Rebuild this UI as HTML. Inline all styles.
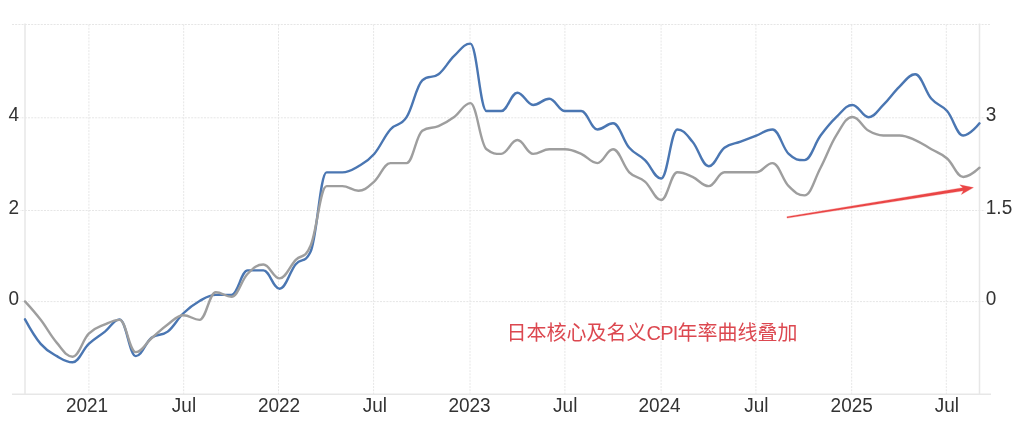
<!DOCTYPE html>
<html><head><meta charset="utf-8"><style>
html,body{margin:0;padding:0;background:#fff;}
body{width:1014px;height:430px;position:relative;overflow:hidden;}
</style></head><body>
<svg width="1014" height="430" viewBox="0 0 1014 430" style="position:absolute;left:0;top:0">
<line x1="88.9" y1="24.5" x2="88.9" y2="394.2" stroke="#e6e6e6" stroke-width="1" stroke-dasharray="2,1.2"/>
<line x1="183.7" y1="24.5" x2="183.7" y2="394.2" stroke="#e6e6e6" stroke-width="1" stroke-dasharray="2,1.2"/>
<line x1="278.5" y1="24.5" x2="278.5" y2="394.2" stroke="#e6e6e6" stroke-width="1" stroke-dasharray="2,1.2"/>
<line x1="373.6" y1="24.5" x2="373.6" y2="394.2" stroke="#e6e6e6" stroke-width="1" stroke-dasharray="2,1.2"/>
<line x1="470.0" y1="24.5" x2="470.0" y2="394.2" stroke="#e6e6e6" stroke-width="1" stroke-dasharray="2,1.2"/>
<line x1="564.9" y1="24.5" x2="564.9" y2="394.2" stroke="#e6e6e6" stroke-width="1" stroke-dasharray="2,1.2"/>
<line x1="661.1" y1="24.5" x2="661.1" y2="394.2" stroke="#e6e6e6" stroke-width="1" stroke-dasharray="2,1.2"/>
<line x1="755.9" y1="24.5" x2="755.9" y2="394.2" stroke="#e6e6e6" stroke-width="1" stroke-dasharray="2,1.2"/>
<line x1="851.7" y1="24.5" x2="851.7" y2="394.2" stroke="#e6e6e6" stroke-width="1" stroke-dasharray="2,1.2"/>
<line x1="946.3" y1="24.5" x2="946.3" y2="394.2" stroke="#e6e6e6" stroke-width="1" stroke-dasharray="2,1.2"/>
<line x1="12" y1="24.5" x2="991" y2="24.5" stroke="#e6e6e6" stroke-width="1" stroke-dasharray="2,1.2"/>
<line x1="12" y1="117.8" x2="991" y2="117.8" stroke="#e6e6e6" stroke-width="1" stroke-dasharray="2,1.2"/>
<line x1="12" y1="210.5" x2="991" y2="210.5" stroke="#e6e6e6" stroke-width="1" stroke-dasharray="2,1.2"/>
<line x1="12" y1="301.6" x2="991" y2="301.6" stroke="#e6e6e6" stroke-width="1" stroke-dasharray="2,1.2"/>
<line x1="25" y1="23.5" x2="25" y2="394.2" stroke="#e7e7e7" stroke-width="1.5"/>
<line x1="979.5" y1="23.5" x2="979.5" y2="394.2" stroke="#e7e7e7" stroke-width="1.5"/>
<line x1="12" y1="394.2" x2="991" y2="394.2" stroke="#e7e7e7" stroke-width="1.5"/>
<path d="M25.00,319.38 C25.00,319.38 34.41,336.66 40.68,343.89 C47.16,351.36 50.40,352.41 56.89,356.14 C63.16,359.76 66.30,362.27 72.57,362.27 C79.05,362.27 82.29,350.02 88.77,343.89 C95.25,337.76 98.50,336.79 104.98,331.63 C110.83,326.98 113.76,319.38 119.61,319.38 C126.10,319.38 129.34,356.14 135.82,356.14 C142.09,356.14 145.23,342.58 151.50,337.76 C157.98,332.78 161.22,336.62 167.70,331.63 C173.98,326.81 177.11,319.28 183.39,313.25 C189.87,307.03 193.11,304.68 199.59,301.00 C206.07,297.32 209.31,294.87 215.80,294.87 C222.07,294.87 225.20,294.87 231.48,294.87 C237.96,294.87 241.20,270.37 247.68,270.37 C253.95,270.37 257.09,270.37 263.36,270.37 C269.85,270.37 273.09,288.75 279.57,288.75 C286.05,288.75 289.29,271.96 295.77,264.24 C301.63,257.26 304.55,264.24 310.41,251.98 C316.89,239.73 320.13,172.33 326.61,172.33 C332.89,172.33 336.02,172.33 342.30,172.33 C348.78,172.33 352.02,169.94 358.50,166.21 C364.77,162.59 367.91,161.18 374.18,153.95 C380.66,146.48 383.90,136.80 390.39,129.44 C396.87,122.09 400.11,127.15 406.59,117.19 C412.86,107.55 416.00,86.56 422.27,80.43 C428.75,74.30 432.00,79.28 438.48,74.30 C444.75,69.48 447.89,61.95 454.16,55.92 C460.64,49.69 463.88,43.67 470.36,43.67 C476.85,43.67 480.09,111.06 486.57,111.06 C492.42,111.06 495.35,111.06 501.20,111.06 C507.69,111.06 510.93,92.68 517.41,92.68 C523.68,92.68 526.82,104.94 533.09,104.94 C539.57,104.94 542.81,98.81 549.30,98.81 C555.57,98.81 558.70,111.06 564.98,111.06 C571.46,111.06 574.70,111.06 581.18,111.06 C587.66,111.06 590.90,129.44 597.39,129.44 C603.66,129.44 606.80,123.32 613.07,123.32 C619.55,123.32 622.79,140.35 629.27,147.82 C635.55,155.06 638.68,154.05 644.95,160.08 C651.44,166.31 654.68,178.46 661.16,178.46 C667.64,178.46 670.88,129.44 677.36,129.44 C683.43,129.44 686.46,134.59 692.52,141.70 C699.00,149.30 702.25,166.21 708.73,166.21 C715.00,166.21 718.14,152.65 724.41,147.82 C730.89,142.84 734.13,144.19 740.61,141.70 C746.89,139.29 750.02,137.98 756.30,135.57 C762.78,133.08 766.02,129.44 772.50,129.44 C778.98,129.44 782.22,147.72 788.70,153.95 C794.98,159.98 798.11,160.08 804.39,160.08 C810.87,160.08 814.11,144.29 820.59,135.57 C826.86,127.13 830.00,123.22 836.27,117.19 C842.75,110.96 846.00,104.94 852.48,104.94 C858.96,104.94 862.20,117.19 868.68,117.19 C874.54,117.19 877.46,110.75 883.32,104.94 C889.80,98.50 893.04,92.78 899.52,86.55 C905.80,80.53 908.93,74.30 915.20,74.30 C921.69,74.30 924.93,91.34 931.41,98.81 C937.68,106.04 940.82,103.83 947.09,111.06 C953.57,118.54 956.81,135.57 963.30,135.57 C969.78,135.57 979.50,123.32 979.50,123.32" fill="none" stroke="#4a76b2" stroke-width="2.4" stroke-linejoin="round" stroke-linecap="round"/>
<path d="M25.00,301.40 C25.00,301.40 34.41,311.68 40.68,319.84 C47.16,328.27 50.40,335.39 56.89,342.89 C63.16,350.15 66.30,356.72 72.57,356.72 C79.05,356.72 82.29,340.12 88.77,333.67 C95.25,327.22 98.50,327.36 104.98,324.45 C110.83,321.82 113.76,319.84 119.61,319.84 C126.10,319.84 129.34,352.11 135.82,352.11 C142.09,352.11 145.23,343.72 151.50,338.28 C157.98,332.66 161.22,329.14 167.70,324.45 C173.98,319.92 177.11,315.23 183.39,315.23 C189.87,315.23 193.11,319.84 199.59,319.84 C206.07,319.84 209.31,292.18 215.80,292.18 C222.07,292.18 225.20,296.79 231.48,296.79 C237.96,296.79 241.20,280.30 247.68,273.74 C253.95,267.39 257.09,264.52 263.36,264.52 C269.85,264.52 273.09,278.35 279.57,278.35 C286.05,278.35 289.29,266.69 295.77,259.91 C301.63,253.78 304.55,259.91 310.41,246.08 C316.89,232.25 320.13,186.15 326.61,186.15 C332.89,186.15 336.02,186.15 342.30,186.15 C348.78,186.15 352.02,190.76 358.50,190.76 C364.77,190.76 367.91,186.98 374.18,181.54 C380.66,175.92 383.90,163.10 390.39,163.10 C396.87,163.10 400.11,163.10 406.59,163.10 C412.86,163.10 416.00,135.44 422.27,130.83 C428.75,126.22 432.00,129.03 438.48,126.22 C444.75,123.50 447.89,121.53 454.16,117.00 C460.64,112.31 463.88,103.17 470.36,103.17 C476.85,103.17 480.09,144.66 486.57,149.27 C492.42,153.88 495.35,153.88 501.20,153.88 C507.69,153.88 510.93,140.05 517.41,140.05 C523.68,140.05 526.82,153.88 533.09,153.88 C539.57,153.88 542.81,149.27 549.30,149.27 C555.57,149.27 558.70,149.27 564.98,149.27 C571.46,149.27 574.70,151.11 581.18,153.88 C587.66,156.65 590.90,163.10 597.39,163.10 C603.66,163.10 606.80,149.27 613.07,149.27 C619.55,149.27 622.79,165.76 629.27,172.32 C635.55,178.67 638.68,176.10 644.95,181.54 C651.44,187.16 654.68,199.98 661.16,199.98 C667.64,199.98 670.88,172.32 677.36,172.32 C683.43,172.32 686.46,174.26 692.52,176.93 C699.00,179.79 702.25,186.15 708.73,186.15 C715.00,186.15 718.14,172.32 724.41,172.32 C730.89,172.32 734.13,172.32 740.61,172.32 C746.89,172.32 750.02,172.32 756.30,172.32 C762.78,172.32 766.02,163.10 772.50,163.10 C778.98,163.10 782.22,179.59 788.70,186.15 C794.98,192.50 798.11,195.37 804.39,195.37 C810.87,195.37 814.11,179.89 820.59,167.71 C826.86,155.92 830.00,145.42 836.27,135.44 C842.75,125.13 846.00,117.00 852.48,117.00 C858.96,117.00 862.20,126.95 868.68,130.83 C874.54,134.33 877.46,135.44 883.32,135.44 C889.80,135.44 893.04,135.44 899.52,135.44 C905.80,135.44 908.93,137.33 915.20,140.05 C921.69,142.86 924.93,145.52 931.41,149.27 C937.68,152.90 940.82,153.05 947.09,158.49 C953.57,164.11 956.81,176.93 963.30,176.93 C969.78,176.93 979.50,167.71 979.50,167.71" fill="none" stroke="#9e9e9e" stroke-width="2.4" stroke-linejoin="round" stroke-linecap="round"/>
<polygon points="787.11,218.09 963.28,190.84 961.34,194.49 973.40,187.60 959.79,184.81 962.78,187.68 786.89,216.71" fill="#ea4545" stroke="#ea4545" stroke-width="0.3" stroke-linejoin="round"/>
<text transform="translate(87.00,411.8) scale(1,1.07)" text-anchor="middle" font-family="Liberation Sans, Arial, sans-serif" font-size="19" fill="#333333">2021</text>
<text transform="translate(184.00,411.8) scale(1,1.07)" text-anchor="middle" font-family="Liberation Sans, Arial, sans-serif" font-size="19" fill="#333333">Jul</text>
<text transform="translate(279.00,411.8) scale(1,1.07)" text-anchor="middle" font-family="Liberation Sans, Arial, sans-serif" font-size="19" fill="#333333">2022</text>
<text transform="translate(374.80,411.8) scale(1,1.07)" text-anchor="middle" font-family="Liberation Sans, Arial, sans-serif" font-size="19" fill="#333333">Jul</text>
<text transform="translate(469.50,411.8) scale(1,1.07)" text-anchor="middle" font-family="Liberation Sans, Arial, sans-serif" font-size="19" fill="#333333">2023</text>
<text transform="translate(565.25,411.8) scale(1,1.07)" text-anchor="middle" font-family="Liberation Sans, Arial, sans-serif" font-size="19" fill="#333333">Jul</text>
<text transform="translate(659.50,411.8) scale(1,1.07)" text-anchor="middle" font-family="Liberation Sans, Arial, sans-serif" font-size="19" fill="#333333">2024</text>
<text transform="translate(756.35,411.8) scale(1,1.07)" text-anchor="middle" font-family="Liberation Sans, Arial, sans-serif" font-size="19" fill="#333333">Jul</text>
<text transform="translate(851.70,411.8) scale(1,1.07)" text-anchor="middle" font-family="Liberation Sans, Arial, sans-serif" font-size="19" fill="#333333">2025</text>
<text transform="translate(946.80,411.8) scale(1,1.07)" text-anchor="middle" font-family="Liberation Sans, Arial, sans-serif" font-size="19" fill="#333333">Jul</text>
<rect x="6" y="105.7" width="14" height="17" fill="#fff"/>
<rect x="6" y="198.9" width="14" height="17" fill="#fff"/>
<rect x="6" y="289.7" width="14" height="17" fill="#fff"/>
<rect x="985.3" y="105.7" width="12" height="17" fill="#fff"/>
<rect x="985.3" y="198.9" width="27" height="17" fill="#fff"/>
<rect x="985.3" y="289.7" width="12" height="17" fill="#fff"/>
<text transform="translate(19,120.7) scale(1,1.07)" text-anchor="end" font-family="Liberation Sans, Arial, sans-serif" font-size="19" fill="#333333">4</text>
<text transform="translate(19,213.9) scale(1,1.07)" text-anchor="end" font-family="Liberation Sans, Arial, sans-serif" font-size="19" fill="#333333">2</text>
<text transform="translate(19,304.7) scale(1,1.07)" text-anchor="end" font-family="Liberation Sans, Arial, sans-serif" font-size="19" fill="#333333">0</text>
<text transform="translate(985.8,120.7) scale(1,1.07)" text-anchor="start" font-family="Liberation Sans, Arial, sans-serif" font-size="19" fill="#333333">3</text>
<text transform="translate(985.8,213.9) scale(1,1.07)" text-anchor="start" font-family="Liberation Sans, Arial, sans-serif" font-size="19" fill="#333333">1.5</text>
<text transform="translate(985.8,304.7) scale(1,1.07)" text-anchor="start" font-family="Liberation Sans, Arial, sans-serif" font-size="19" fill="#333333">0</text>
<text x="506.5" y="340" font-family="Liberation Sans, Noto Sans CJK SC, sans-serif" font-size="20" fill="#dc4850">日本核心及名义<tspan letter-spacing="-0.75">CPI</tspan>年率曲线叠加</text>
</svg>
</body></html>
